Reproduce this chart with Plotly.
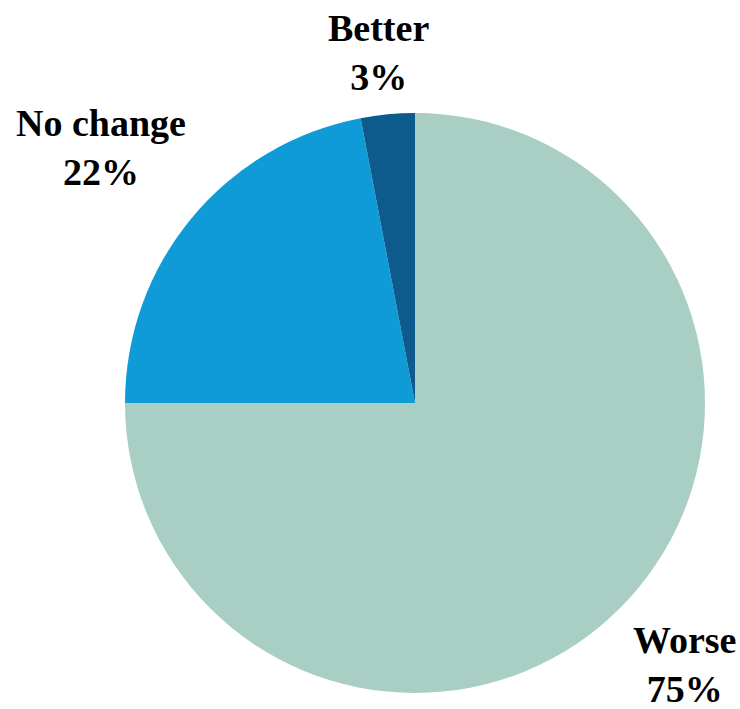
import plotly.graph_objects as go

# Survey responses
labels = ["Worse", "No change", "Better"]
values = [75, 22, 3]
colors = ["#a9cec4", "#0f9bd7", "#0d5b8c"]

W, H = 740, 709

fig = go.Figure(
    go.Pie(
        labels=labels,
        values=values,
        sort=False,
        direction="clockwise",
        rotation=0,
        textinfo="none",
        hoverinfo="label+percent",
        marker=dict(colors=colors, line=dict(width=0)),
        domain=dict(x=[125 / W, 705 / W], y=[1 - 693 / H, 1 - 113 / H]),
        showlegend=False,
    )
)

# Outside labels: name on the first line, share on the second
label_pos = {
    "Worse": (684, 664),
    "No change": (101, 147),
    "Better": (378, 53),
}
total = sum(values)
for lab, val in zip(labels, values):
    px, py = label_pos[lab]
    pct = round(100 * val / total)
    fig.add_annotation(
        x=px / W,
        y=1 - py / H,
        xref="paper",
        yref="paper",
        text=f"<b>{lab}</b><br><b>{pct}%</b>",
        showarrow=False,
        xanchor="center",
        yanchor="middle",
        align="center",
        font=dict(family="Liberation Serif, Times New Roman, serif", size=38, color="#000000"),
    )

fig.update_layout(
    width=W,
    height=H,
    margin=dict(l=0, r=0, t=0, b=0),
    paper_bgcolor="white",
    plot_bgcolor="white",
)

fig.write_html("out.html")
